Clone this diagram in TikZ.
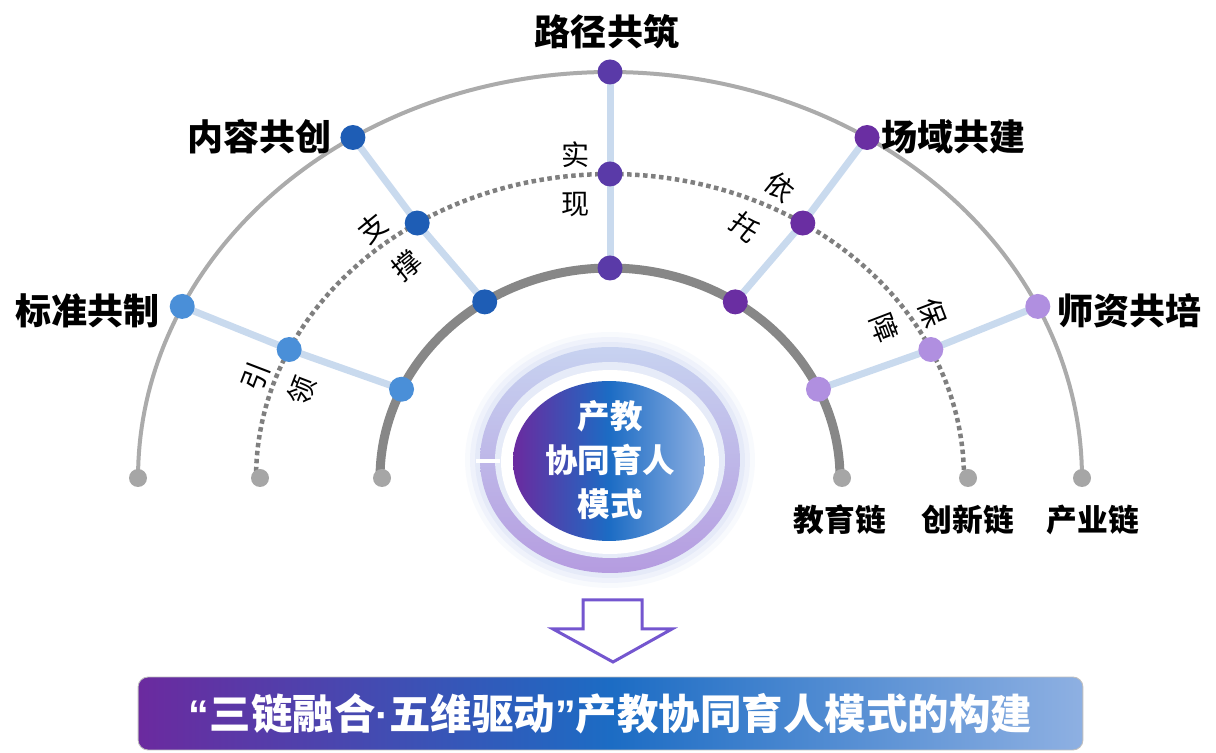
\documentclass[tikz,border=0pt]{standalone}
\usepackage{fontspec}
\newfontfamily\cjk{Noto Sans CJK SC}
\newfontfamily\latinp{Liberation Sans}
\usetikzlibrary{backgrounds}
\definecolor{cA}{HTML}{4A8FD8}
\definecolor{cB}{HTML}{1E5DB5}
\definecolor{cC}{HTML}{5A3AA8}
\definecolor{cD}{HTML}{6A2EA2}
\definecolor{cE}{HTML}{B08FE0}
\definecolor{arcOut}{HTML}{ABABAB}
\definecolor{arcMid}{HTML}{7F7F7F}
\definecolor{arcIn}{HTML}{878787}
\definecolor{conn}{HTML}{C9DAEE}
\definecolor{endDot}{HTML}{A6A6A6}
\definecolor{purpL}{HTML}{6B2A9F}
\definecolor{blueM}{HTML}{1C6CC4}
\definecolor{blueR}{HTML}{8EB0E2}
\definecolor{ringT}{HTML}{C7D2F0}
\definecolor{ringB}{HTML}{B59CE0}
\definecolor{arrowC}{HTML}{7456CF}
\tikzset{
  dotnode/.style={circle, inner sep=0pt, minimum size=0.5cm},
  enddot/.style={circle, fill=endDot, inner sep=0pt, minimum size=0.36cm},
  biglabel/.style={font=\cjk\bfseries\fontsize{20.5}{24}\selectfont, inner sep=0pt},
  chainlabel/.style={font=\cjk\bfseries\fontsize{17.5}{20}\selectfont, inner sep=0pt},
  smalllabel/.style={font=\cjk\fontsize{16}{18}\selectfont, inner sep=0pt},
  connline/.style={draw=conn, line width=0.14cm},
}
\begin{document}
\begin{tikzpicture}[x=0.02cm,y=0.02cm]
\useasboundingbox (0,0) rectangle (1216,753);
% dots on the three chains
\foreach \n/\a/\c in {1/155/cA,2/123/cB,3/90/cC,4/57/cD,5/25/cE}{
  \node[dotnode, fill=\c] (o\n) at ({610+472*cos(\a)},{275+406*sin(\a)}) {};
  \node[dotnode, fill=\c] (m\n) at ({610+354*cos(\a)},{275+304*sin(\a)}) {};
  \node[dotnode, fill=\c] (i\n) at ({610+230*cos(\a)},{275+210*sin(\a)}) {};
}
% end dots
\node[enddot] (eOL) at (138,275) {};
\node[enddot] (eML) at (260,275) {};
\node[enddot] (eIL) at (382,275) {};
\node[enddot] (eIR) at (842,275) {};
\node[enddot] (eMR) at (968,275) {};
\node[enddot] (eOR) at (1082,275) {};
\begin{pgfonlayer}{background}
  \draw[arcOut, line width=0.08cm] plot[domain=0:180, samples=150] ({610+472*cos(\x)},{275+406*sin(\x)});
  \draw[arcMid, line width=0.09cm, dash pattern=on 0.09cm off 0.07cm] plot[domain=0:180, samples=150] ({610+354*cos(\x)},{275+304*sin(\x)});
  \draw[arcIn, line width=0.18cm] plot[domain=0:180, samples=150] ({610+230*cos(\x)},{275+210*sin(\x)});
  \foreach \n in {1,...,5} \draw[connline] (o\n.center) -- (m\n.center) -- (i\n.center);
\end{pgfonlayer}
% labels
\node[biglabel] (tTop) at (607,721) {路径共筑};
\node[biglabel, anchor=east] (tL2) at (332,616) {内容共创};
\node[biglabel, anchor=east] (tL1) at (160,442) {标准共制};
\node[biglabel, anchor=west] (tR4) at (881,616) {场域共建};
\node[biglabel, anchor=west] (tR5) at (1057,442) {师资共培};
\node[chainlabel] (ch1) at (840,233) {教育链};
\node[chainlabel] (ch2) at (968,233) {创新链};
\node[chainlabel] (ch3) at (1093,233) {产业链};
% small relation words
\node[smalllabel] (s1a) at (576,598) {实};
\node[smalllabel] (s1b) at (576,548) {现};
\node[smalllabel, rotate=39] (s2a) at (373,525) {支};
\node[smalllabel, rotate=39] (s2b) at (407,488) {撑};
\node[smalllabel, rotate=69] (s3a) at (256,376) {引};
\node[smalllabel, rotate=69] (s3b) at (302,362) {领};
\node[smalllabel, rotate=-39] (s4a) at (780,566) {依};
\node[smalllabel, rotate=-39] (s4b) at (745,526) {托};
\node[smalllabel, rotate=-69] (s5a) at (932,440) {保};
\node[smalllabel, rotate=-69] (s5b) at (885,425) {障};
% central emblem
\foreach \r/\o in {0.3/0.12,0.2/0.18,0.1/0.25}
  \fill[ringT, opacity=\o] (610,293) ellipse [x radius={2.6cm+\r cm}, y radius={2.26cm+\r cm}];
\shade[top color=ringT, bottom color=ringB] (610,293) ellipse [x radius=2.6cm, y radius=2.26cm];
\fill[ringT!45] (610,293) ellipse [x radius=2.3cm, y radius=1.96cm];
\fill[white] (610,291) ellipse [x radius=2.18cm, y radius=1.84cm];
\fill[white] (476,290) rectangle (500,293.5);
\shade[left color=purpL, right color=blueR, middle color=blueM] (609,292) ellipse [x radius=1.92cm, y radius=1.6cm];
\node[font=\cjk\bfseries\fontsize{18.5}{25}\selectfont, text=white, align=center] (core) at (610,293) {产教\\协同育人\\模式};
% arrow
\draw[arrowC, line width=0.06cm, fill=white, line join=miter]
  (583,153) -- (642,153) -- (642,124) -- (672,124) -- (613,91) -- (553,124) -- (583,124) -- cycle;
% banner
\node[rounded corners=0.2cm, minimum width=18.9cm, minimum height=1.46cm, inner sep=0pt,
      left color=purpL, right color=blueR, middle color=blueM, draw=gray!50, line width=0.5pt,
      text=white, font=\cjk\bfseries\fontsize{23.6}{26}\selectfont] (banner) at (610.5,39.5)
  {{\latinp\bfseries “}三链融合{\latinp\bfseries ·}五维驱动{\latinp\bfseries ”}产教协同育人模式的构建};
\end{tikzpicture}
\end{document}
